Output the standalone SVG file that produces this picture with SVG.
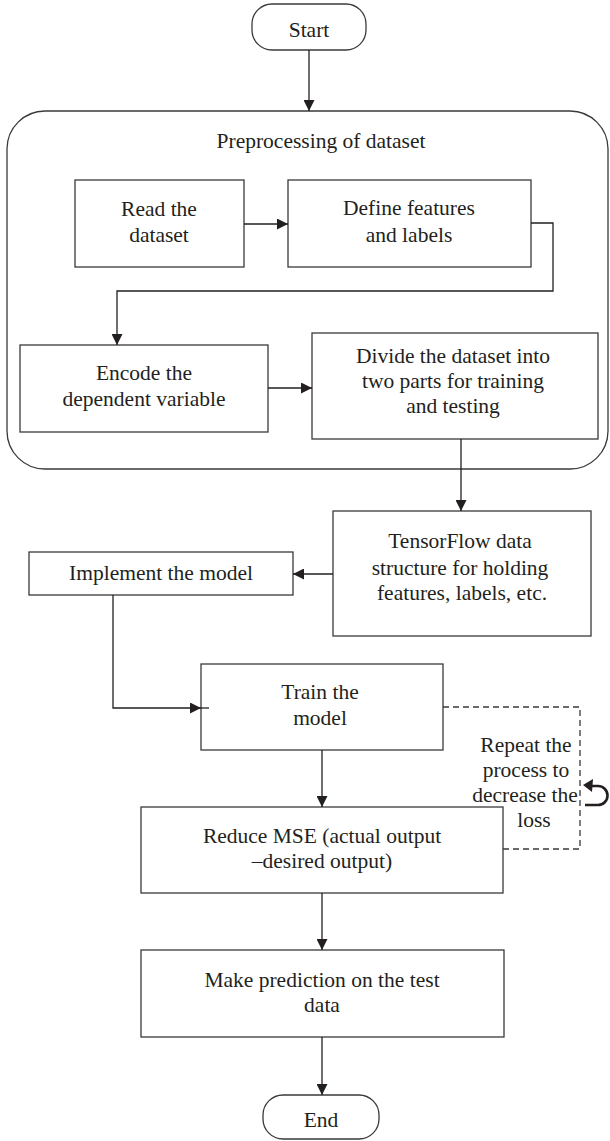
<svg xmlns="http://www.w3.org/2000/svg" width="610" height="1141" viewBox="0 0 610 1141">
<style>
.box{fill:#fff;stroke:#3a3a3a;stroke-width:1.3}
.t{font-family:"Liberation Serif","Times New Roman",serif;font-size:21.5px;fill:#231f20;text-anchor:middle}
.c{fill:none;stroke:#231f20;stroke-width:1.3}
.d{fill:none;stroke:#3a3a3a;stroke-width:1.3;stroke-dasharray:6 4}
</style>
<defs>
<marker id="ah" markerUnits="userSpaceOnUse" markerWidth="11" markerHeight="11" viewBox="0 0 11 11" refX="11" refY="5.5" orient="auto">
<path d="M0,0 L11,5.5 L0,11 z" fill="#231f20"/>
</marker>
</defs>
<rect width="610" height="1141" fill="#fff"/>
<g id="preprocessing">
<rect class="box" x="7" y="111" width="601" height="358" rx="38"/>
<text class="t" x="321" y="148">Preprocessing of dataset</text>
</g>
<g id="start">
<rect class="box" x="252" y="4" width="114" height="46" rx="20"/>
<text class="t" x="309" y="37">Start</text>
</g>
<g id="read">
<rect class="box" x="75" y="180" width="169" height="87"/>
<text class="t" x="159" y="216">Read the</text>
<text class="t" x="159" y="242">dataset</text>
</g>
<g id="define">
<rect class="box" x="288" y="180" width="243" height="87"/>
<text class="t" x="409" y="215">Define features</text>
<text class="t" x="409" y="242">and labels</text>
</g>
<g id="encode">
<rect class="box" x="20" y="345" width="248" height="87"/>
<text class="t" x="144" y="380">Encode the</text>
<text class="t" x="144" y="406">dependent variable</text>
</g>
<g id="divide">
<rect class="box" x="312" y="333" width="286" height="106"/>
<text class="t" x="453" y="363">Divide the dataset into</text>
<text class="t" x="453" y="388">two parts for training</text>
<text class="t" x="453" y="413">and testing</text>
</g>
<g id="tensorflow">
<rect class="box" x="333" y="511" width="258" height="125"/>
<text class="t" x="460" y="548">TensorFlow data</text>
<text class="t" x="460" y="575">structure for holding</text>
<text class="t" x="462" y="600">features, labels, etc.</text>
</g>
<g id="implement">
<rect class="box" x="29" y="552" width="264" height="43"/>
<text class="t" x="161" y="580">Implement the model</text>
</g>
<g id="train">
<rect class="box" x="201" y="664" width="242" height="86"/>
<text class="t" x="320" y="699">Train the</text>
<text class="t" x="320" y="725">model</text>
</g>
<g id="reduce">
<rect class="box" x="141" y="807" width="362" height="86"/>
<text class="t" x="322" y="843">Reduce MSE (actual output</text>
<text class="t" x="322" y="868">–desired output)</text>
</g>
<g id="predict">
<rect class="box" x="141" y="950" width="363" height="87"/>
<text class="t" x="322" y="987">Make prediction on the test</text>
<text class="t" x="322" y="1012">data</text>
</g>
<g id="end">
<rect class="box" x="263" y="1095" width="116" height="44" rx="20"/>
<text class="t" x="321" y="1127">End</text>
</g>
<g id="repeat-note">
<text class="t" x="526" y="752">Repeat the</text>
<text class="t" x="526" y="777">process to</text>
<text class="t" x="525" y="802">decrease the</text>
<text class="t" x="534" y="827">loss</text>
<path d="M590 786 H598 A9.5 9.5 0 0 1 598 805 H585" fill="none" stroke="#231f20" stroke-width="2.6"/>
<path d="M583 785 L593 779 L592 792 z" fill="#231f20"/>
</g>
<g id="connectors">
<path class="c" d="M309 50 V111" marker-end="url(#ah)"/>
<path class="c" d="M244 224 H288" marker-end="url(#ah)"/>
<path class="c" d="M531 223 H553 V291 H117 V345" marker-end="url(#ah)"/>
<path class="c" d="M268 388 H312" marker-end="url(#ah)"/>
<path class="c" d="M461 439 V511" marker-end="url(#ah)"/>
<path class="c" d="M333 574 H293" marker-end="url(#ah)"/>
<path class="c" d="M113 595 V708 H201" marker-end="url(#ah)"/>
<path class="c" d="M201 708 H209"/>
<path class="c" d="M322 750 V807" marker-end="url(#ah)"/>
<path class="d" d="M443 707 H580 V849 H503"/>
<path class="c" d="M322 893 V950" marker-end="url(#ah)"/>
<path class="c" d="M322 1037 V1095" marker-end="url(#ah)"/>
</g>
</svg>
